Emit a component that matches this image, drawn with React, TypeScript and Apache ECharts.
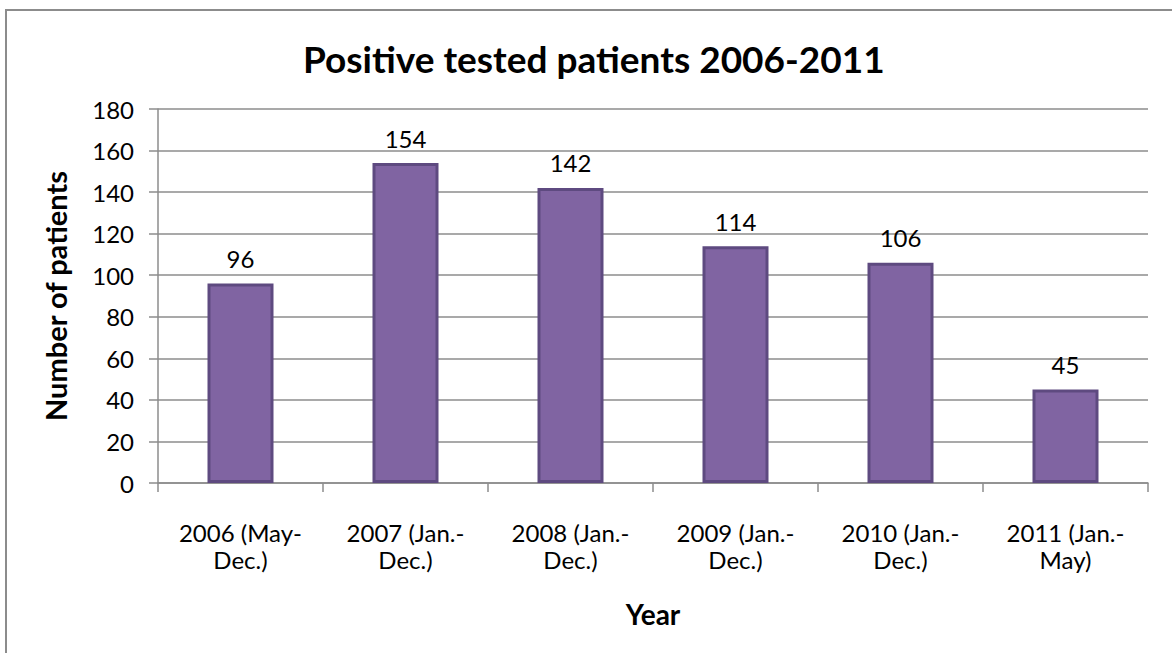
import React, { useEffect, useRef } from "react";
import * as echarts from "echarts";

// Yearly counts of positive-tested patients
const categories = [
  "2006 (May-\nDec.)",
  "2007 (Jan.-\nDec.)",
  "2008 (Jan.-\nDec.)",
  "2009 (Jan.-\nDec.)",
  "2010 (Jan.-\nDec.)",
  "2011 (Jan.-\nMay)",
];
const patients = [96, 154, 142, 114, 106, 45];
const yTicks = { min: 0, max: 180, interval: 20 };

const FONT = "Lato, 'Open Sans', sans-serif";

export default function App() {
  const ref = useRef<HTMLDivElement>(null);

  useEffect(() => {
    document.body.style.margin = "0";
    if (!ref.current) return;
    const chart = echarts.init(ref.current, undefined, { renderer: "svg" });
    chart.setOption({
      animation: false,
      backgroundColor: "#ffffff",
      textStyle: { fontFamily: FONT },
      graphic: [
        {
          type: "rect",
          shape: { x: 6, y: 10, width: 1300, height: 800 },
          style: { fill: "none", stroke: "#8c8c8c", lineWidth: 2 },
          silent: true,
        },
      ],
      title: {
        text: "Positive tested patients 2006-2011",
        left: 298,
        top: 35,
        textStyle: { fontFamily: FONT, fontSize: 37, fontWeight: "bold", color: "#000" },
      },
      grid: { left: 158, right: 24, top: 109, bottom: 170 },
      xAxis: {
        type: "category",
        data: categories,
        name: "Year",
        nameLocation: "middle",
        nameGap: 117,
        nameTextStyle: { fontFamily: FONT, fontSize: 28, fontWeight: "bold", color: "#000" },
        axisLine: { lineStyle: { color: "#8c8c8c", width: 1.5 } },
        axisTick: { show: true, length: 9, lineStyle: { color: "#8c8c8c", width: 1.5 } },
        axisLabel: {
          fontFamily: FONT,
          fontSize: 24,
          lineHeight: 27,
          color: "#000",
          margin: 36,
          interval: 0,
        },
      },
      yAxis: {
        type: "value",
        min: yTicks.min,
        max: yTicks.max,
        interval: yTicks.interval,
        name: "Number of patients",
        nameLocation: "middle",
        nameGap: 88,
        nameRotate: 90,
        nameTextStyle: { fontFamily: FONT, fontSize: 29, fontWeight: "bold", color: "#000" },
        axisLine: { show: true, lineStyle: { color: "#8c8c8c", width: 1.5 } },
        axisTick: { show: true, length: 9, lineStyle: { color: "#8c8c8c", width: 1.5 } },
        axisLabel: { fontFamily: FONT, fontSize: 24, color: "#000", margin: 24 },
        splitLine: { show: true, lineStyle: { color: "#8c8c8c", width: 1.5 } },
      },
      series: [
        {
          type: "bar",
          data: patients,
          barWidth: 66,
          itemStyle: { color: "#8064a2", borderColor: "#5e4a80", borderWidth: 3 },
          label: {
            show: true,
            position: "top",
            distance: 13,
            fontFamily: FONT,
            fontSize: 24,
            color: "#000",
          },
        },
      ],
    });
    return () => chart.dispose();
  }, []);

  return <div ref={ref} style={{ width: 1172, height: 653 }} />;
}
